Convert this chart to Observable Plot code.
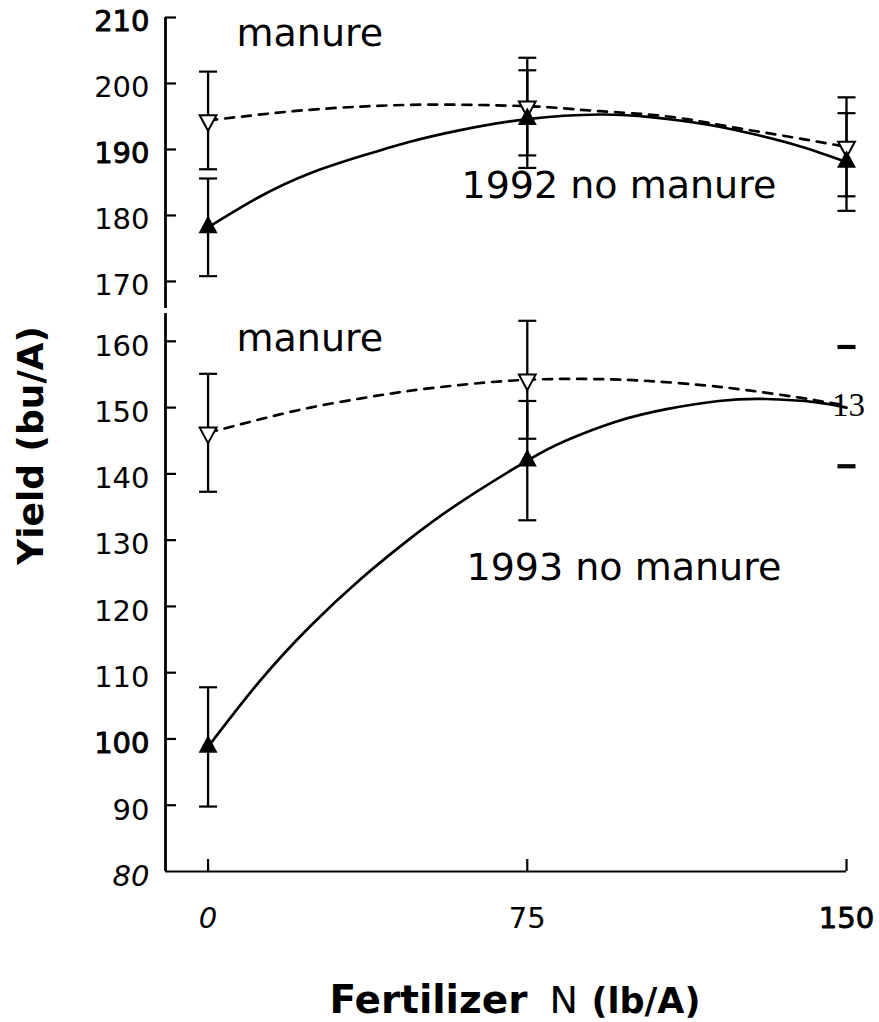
<!DOCTYPE html>
<html>
<head>
<meta charset="utf-8">
<script src="https://cdn.jsdelivr.net/npm/d3@7"></script>
<script src="https://cdn.jsdelivr.net/npm/@observablehq/plot@0.6"></script>
<style>
  html, body { margin: 0; padding: 0; background: #fff; }
  #chart svg { display: block; }
</style>
</head>
<body>
<div id="chart"></div>
<script>
// ---------- data ----------
const nRates = [0, 75, 150];                       // fertilizer N (lb/A)
const xTicks = [0, 75, 150];

// 1992 panel
const yield1992Manure   = [194.4, 196.5, 190.4];
const yield1992NoManure = [178.2, 194.6, 188.1];
const err1992Manure     = [7.4, 7.4, 7.5];
const err1992NoManure   = [7.4, 7.4, 7.4];
const yTicks1992 = [170, 180, 190, 200, 210];
const yBold1992  = [190, 210];

// 1993 panel
const yield1993Manure   = [146.2, 154.2, 150.3];
const yield1993NoManure = [98.8, 142.0, 150.0];
const err1993Manure     = [8.9, 8.9, 9.0];
const err1993NoManure   = [9.0, 9.0, 9.0];
const yTicks1993 = [80, 90, 100, 110, 120, 130, 140, 150, 160];
const yBold1993  = [100];
const yItalic1993 = [80];

// fitted response curves
const fit1992ManureN  = [0, 20, 36, 51, 67, 80, 92, 108, 123, 135, 150];
const fit1992ManureY  = [194.4, 195.8, 196.5, 196.8, 196.7, 196.4, 195.8, 195.0, 193.4, 192.1, 190.4];
const fit1992NoManN   = [0, 12, 24, 36, 47, 59, 75, 92, 104, 116, 127, 139, 150];
const fit1992NoManY   = [178.2, 182.8, 186.4, 189.0, 191.1, 192.9, 194.6, 195.3, 194.9, 193.9, 192.5, 190.5, 188.1];
const fit1993ManureN  = [0, 12, 24, 36, 47, 59, 75, 92, 104, 116, 127, 139, 150];
const fit1993ManureY  = [146.2, 148.2, 150.0, 151.4, 152.5, 153.4, 154.2, 154.3, 154.0, 153.4, 152.6, 151.5, 150.3];
const fit1993NoManN   = [0, 12, 24, 36, 47, 59, 75, 84, 96, 108, 120, 131, 143, 150];
const fit1993NoManY   = [98.8, 108.6, 117.0, 124.2, 130.0, 135.6, 142.0, 145.0, 147.9, 149.8, 151.0, 151.3, 150.8, 150.0];

const labelManure = "manure";
const label1992 = "1992 no manure";
const label1993 = "1993 no manure";
const yTitle = "Yield (bu/A)";
const xTitleParts = ["Fertilizer", "N", "(lb/A)"];
const glyph150 = "13";

// ---------- helpers ----------
const pts = (vals, errs) => nRates.map((x, i) => ({x, y: vals[i], err: errs[i]}));
const fit = (xs, ys) => xs.map((x, i) => ({x, y: ys[i]}));

const hline = { draw(ctx, size) { const r = Math.sqrt(size / Math.PI); ctx.moveTo(-r, 0); ctx.lineTo(r, 0); } };
const triUp = { draw(ctx, size) { const r = Math.sqrt(size / Math.PI), h = 1.85 * r;
  ctx.moveTo(0, -2 * h / 3); ctx.lineTo(r, h / 3); ctx.lineTo(-r, h / 3); ctx.closePath(); } };
const triDown = { draw(ctx, size) { const r = Math.sqrt(size / Math.PI), h = 1.85 * r;
  ctx.moveTo(0, 2 * h / 3); ctx.lineTo(r, -h / 3); ctx.lineTo(-r, -h / 3); ctx.closePath(); } };

const W = 879, ML = 165, MR = 33;
const plotW = W - ML - MR;
const xDomain = [-10, 150];
const FONT = "DejaVu Sans";
const TICK_FS = 29;
const baseStyle = {fontFamily: FONT, background: "white", color: "black"};
const semibold = {fill: "black", stroke: "black", strokeWidth: 0.9};

function yAxisMarks(ticks, bold, italic, dy) {
  const plain = ticks.filter(t => !bold.includes(t) && !italic.includes(t));
  const common = {y: d => d, text: d => String(d), frameAnchor: "left", textAnchor: "end",
                  dx: -16, dy, fontSize: TICK_FS, lineAnchor: "middle"};
  return [
    Plot.ruleX([xDomain[0]], {x: d => d, strokeWidth: 2.8}),
    Plot.text(plain, common),
    Plot.text(ticks.filter(t => bold.includes(t)), {...common, ...semibold}),
    Plot.text(ticks.filter(t => italic.includes(t)), {...common, fontStyle: "italic"})
  ];
}

function seriesMarks(ptsM, ptsN, fitM, fitN, showAt) {
  const barM = ptsM.filter(showAt), barN = ptsN.filter(showAt);
  const capStyle = {symbol: hline, r: 9, stroke: "black", fill: "none", strokeWidth: 2.2};
  return [
    Plot.line(fitM, {x: "x", y: "y", curve: "natural", stroke: "black", strokeWidth: 2.7, strokeDasharray: "9,8"}),
    Plot.line(fitN, {x: "x", y: "y", curve: "natural", stroke: "black", strokeWidth: 2.7}),
    Plot.ruleX(barM, {x: "x", y1: d => d.y - d.err, y2: d => d.y + d.err, strokeWidth: 2.3}),
    Plot.ruleX(barN, {x: "x", y1: d => d.y - d.err, y2: d => d.y + d.err, strokeWidth: 2.3}),
    Plot.dot([...ptsM, ...ptsN], {x: "x", y: d => d.y + d.err, ...capStyle}),
    Plot.dot([...ptsM, ...ptsN], {x: "x", y: d => d.y - d.err, ...capStyle}),
    Plot.dot(barM, {x: "x", y: "y", symbol: triDown, r: 8.4, fill: "white", stroke: "black", strokeWidth: 2}),
    Plot.dot(barN, {x: "x", y: "y", symbol: triUp, r: 9.5, fill: "black", stroke: "none"})
  ];
}

// ---------- 1992 panel ----------
const p92m = pts(yield1992Manure, err1992Manure);
const p92n = pts(yield1992NoManure, err1992NoManure);

const topPlot = Plot.plot({
  width: W, height: 311,
  marginLeft: ML, marginRight: MR, marginTop: 17, marginBottom: 3,
  x: {domain: xDomain, axis: null},
  y: {domain: [165.9, 210], axis: null},
  style: baseStyle,
  marks: [
    ...yAxisMarks(yTicks1992, yBold1992, [], 4),
    Plot.tickY(yTicks1992, {y: d => d, insetRight: plotW - 11, strokeWidth: 2.2}),
    ...seriesMarks(p92m, p92n, fit(fit1992ManureN, fit1992ManureY), fit(fit1992NoManN, fit1992NoManY), () => true),
    Plot.text([labelManure], {text: d => d, frameAnchor: "top-left", textAnchor: "start", lineAnchor: "bottom", dx: 71, dy: 28, fontSize: 38}),
    Plot.text([label1992], {text: d => d, frameAnchor: "top-left", textAnchor: "start", lineAnchor: "bottom", dx: 296, dy: 180, fontSize: 38})
  ]
});

// ---------- 1993 panel ----------
const p93m = pts(yield1993Manure, err1993Manure);
const p93n = pts(yield1993NoManure, err1993NoManure);

const bottomPlot = Plot.plot({
  width: W, height: 711,
  marginLeft: ML, marginRight: MR, marginTop: 2, marginBottom: 151,
  x: {domain: xDomain, axis: null},
  y: {domain: [80, 164.2], axis: null},
  style: baseStyle,
  marks: [
    ...yAxisMarks(yTicks1993, yBold1993, yItalic1993, 5),
    Plot.tickY(yTicks1993.filter(t => t > 80), {y: d => d, insetRight: plotW - 11, strokeWidth: 2.2}),
    Plot.ruleY([yTicks1993[0]], {y: d => d, strokeWidth: 2}),
    Plot.tickX(xTicks, {x: d => d, insetTop: 558 - 12, strokeWidth: 2.2}),
    Plot.text(xTicks.filter(t => t === 0), {x: d => d, text: d => String(d), frameAnchor: "bottom", dy: 47, fontSize: TICK_FS, fontStyle: "italic", lineAnchor: "middle"}),
    Plot.text(xTicks.filter(t => t === 75), {x: d => d, text: d => String(d), frameAnchor: "bottom", dy: 47, fontSize: TICK_FS, lineAnchor: "middle"}),
    Plot.text(xTicks.filter(t => t === 150), {x: d => d, text: d => String(d), frameAnchor: "bottom", dy: 47, fontSize: TICK_FS, lineAnchor: "middle", ...semibold}),
    ...seriesMarks(p93m, p93n, fit(fit1993ManureN, fit1993ManureY), fit(fit1993NoManN, fit1993NoManY), d => d.x < 150),
    Plot.text(p93m.filter(d => d.x === 150), {x: "x", y: "y", text: () => glyph150, fontFamily: "Liberation Serif", fontSize: 33, lineAnchor: "middle", dx: 2, ariaLabel: "glyph13"}),
    Plot.text([labelManure], {text: d => d, frameAnchor: "top-left", textAnchor: "start", lineAnchor: "bottom", dx: 71, dy: 37, fontSize: 38}),
    Plot.text([label1993], {text: d => d, frameAnchor: "top-left", textAnchor: "start", lineAnchor: "bottom", dx: 301, dy: 266, fontSize: 38}),
    Plot.text([yTitle], {text: d => d, frameAnchor: "top-left", rotate: -90, textAnchor: "middle", lineAnchor: "middle", dx: -134, dy: 132, fontSize: 36, fontWeight: "bold"}),
    Plot.text([xTitleParts[0]], {text: d => d, frameAnchor: "bottom-left", textAnchor: "start", lineAnchor: "bottom", dx: 164, dy: 141, fontSize: 39, fontWeight: "bold"}),
    Plot.text([xTitleParts[1]], {text: d => d, frameAnchor: "bottom-left", textAnchor: "start", lineAnchor: "bottom", dx: 384, dy: 141, fontSize: 38}),
    Plot.text([xTitleParts[2]], {text: d => d, frameAnchor: "bottom-left", textAnchor: "start", lineAnchor: "bottom", dx: 426, dy: 141, fontSize: 35, fontWeight: "bold"})
  ]
});

d3.select(bottomPlot).selectAll('[aria-label="glyph13"] text').attr("letter-spacing", "-9px");

const host = document.getElementById("chart");
host.appendChild(topPlot);
host.appendChild(bottomPlot);
</script>
</body>
</html>
